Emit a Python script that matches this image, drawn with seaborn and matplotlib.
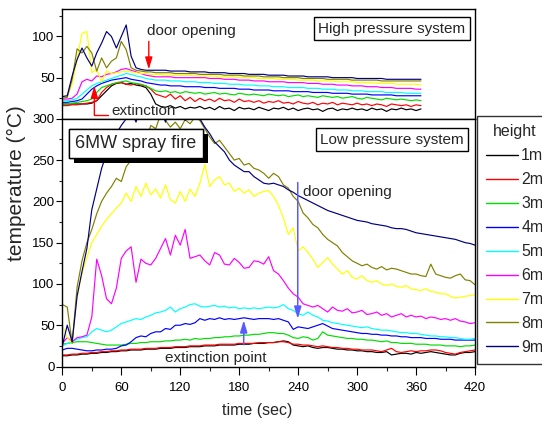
import numpy as np
import pandas as pd
import matplotlib
matplotlib.use("Agg")
import matplotlib.pyplot as plt
import matplotlib.patheffects as pe
from matplotlib.ticker import MultipleLocator, FixedLocator
import seaborn as sns

sns.set_style("ticks")
REGULAR = ["Liberation Sans", "DejaVu Sans"]
plt.rcParams["font.family"] = REGULAR

# ---------------- data ----------------
heights = ["1m", "2m", "3m", "4m", "5m", "6m", "7m", "8m", "9m"]
colors = ["#000000", "#ff0000", "#00dd00", "#0000ff", "#00ffff",
          "#ff00ff", "#ffff00", "#808000", "#000080"]

# High pressure system (upper panel), time 0..365 s every 5 s
t_high = np.arange(0, 366, 5)
high_1m = [18, 18, 18, 18, 18, 18, 19, 22, 28, 34,
           40, 43, 44, 42, 43, 41, 40, 38, 30, 18,
           15, 14, 16, 13, 15, 12, 14, 13, 15, 12,
           14, 11, 15, 12, 13, 10, 14, 12, 13, 11,
           14, 12, 10, 13, 12, 14, 11, 13, 10, 12,
           13, 11, 12, 9, 12, 13, 10, 12, 11, 13,
           11, 12, 10, 13, 11, 12, 9, 12, 11, 13,
           11, 12, 10, 12]
high_2m = [16, 16, 17, 17, 18, 19, 20, 22, 32, 38,
           42, 43, 44, 42, 41, 43, 41, 40, 36, 30,
           28, 26, 30, 24, 28, 22, 26, 21, 25, 22,
           24, 21, 25, 22, 23, 20, 24, 21, 22, 20,
           22, 19, 21, 20, 22, 19, 20, 18, 21, 19,
           18, 20, 17, 19, 18, 20, 17, 19, 18, 17,
           19, 17, 18, 16, 18, 17, 15, 18, 17, 16,
           17, 15, 17, 16]
high_3m = [18, 18, 19, 20, 21, 22, 24, 32, 38, 40,
           42, 44, 45, 46, 44, 43, 42, 40, 37, 34,
           33, 34, 32, 33, 31, 33, 32, 31, 32, 30,
           31, 32, 30, 31, 30, 29, 31, 30, 29, 30,
           29, 28, 30, 29, 28, 29, 27, 28, 29, 27,
           28, 27, 26, 28, 27, 26, 27, 25, 26, 27,
           25, 24, 26, 25, 24, 23, 25, 24, 23, 24,
           23, 22, 23, 22]
high_4m = [20, 20, 21, 22, 24, 30, 36, 40, 43, 45,
           47, 48, 49, 50, 48, 47, 46, 44, 43, 42,
           41, 41, 40, 40, 40, 39, 39, 39, 39, 38,
           38, 38, 37, 37, 37, 37, 36, 36, 36, 35,
           35, 35, 35, 34, 34, 34, 34, 33, 33, 33,
           33, 32, 32, 32, 32, 31, 31, 31, 31, 30,
           30, 30, 30, 29, 29, 29, 29, 29, 28, 28,
           28, 28, 28, 28]
high_5m = [22, 22, 23, 25, 30, 35, 40, 43, 45, 47,
           49, 51, 53, 55, 54, 52, 51, 49, 48, 47,
           47, 47, 46, 46, 46, 45, 45, 45, 44, 44,
           44, 43, 43, 43, 42, 42, 42, 41, 41, 41,
           40, 40, 40, 39, 39, 39, 38, 38, 38, 38,
           37, 37, 37, 36, 36, 36, 35, 35, 35, 34,
           34, 34, 33, 33, 33, 33, 32, 32, 32, 32,
           31, 31, 31, 31]
high_6m = [24, 24, 25, 30, 45, 48, 46, 52, 51, 54,
           55, 57, 60, 61, 59, 57, 55, 53, 52, 51,
           51, 51, 51, 50, 50, 50, 50, 50, 50, 50,
           49, 49, 49, 48, 48, 48, 47, 47, 47, 46,
           46, 46, 45, 45, 45, 45, 44, 44, 44, 44,
           43, 43, 43, 42, 42, 42, 41, 41, 41, 40,
           40, 40, 39, 39, 39, 38, 38, 38, 37, 37,
           37, 37, 36, 36]
high_7m = [27, 28, 42, 72, 104, 106, 56, 60, 45, 58,
           55, 56, 57, 58, 57, 56, 55, 55, 54, 54,
           54, 53, 53, 53, 53, 53, 53, 52, 52, 52,
           52, 52, 51, 51, 51, 51, 50, 50, 50, 50,
           49, 49, 49, 49, 48, 48, 48, 48, 47, 47,
           47, 47, 46, 46, 46, 46, 45, 45, 45, 45,
           44, 44, 44, 44, 43, 43, 43, 43, 42, 42,
           42, 42, 42, 41]
high_8m = [25, 26, 48, 85, 80, 88, 80, 58, 74, 62,
           70, 74, 94, 84, 62, 59, 58, 57, 57, 56,
           56, 56, 56, 55, 55, 55, 55, 55, 54, 54,
           54, 54, 54, 53, 53, 53, 53, 52, 52, 52,
           52, 51, 51, 51, 51, 50, 50, 50, 50, 49,
           49, 49, 49, 49, 48, 48, 48, 48, 48, 47,
           47, 47, 47, 47, 47, 46, 46, 46, 46, 46,
           46, 46, 46, 46]
high_9m = [27, 28, 52, 72, 86, 74, 64, 80, 92, 106,
           100, 86, 100, 114, 76, 62, 60, 59, 59, 59,
           59, 59, 58, 58, 58, 58, 57, 57, 57, 57,
           56, 56, 56, 56, 55, 55, 55, 55, 54, 54,
           54, 54, 53, 53, 53, 53, 52, 52, 52, 52,
           51, 51, 51, 51, 51, 50, 50, 50, 50, 50,
           49, 49, 49, 49, 49, 49, 48, 48, 48, 48,
           48, 48, 48, 48]

# Low pressure system (lower panel), time 0..420 s every 5 s
t_low = np.arange(0, 421, 5)
low_1m = [13, 13, 14, 14, 15, 15, 16, 16, 17, 17,
          18, 18, 19, 19, 20, 20, 20, 21, 21, 21,
          22, 22, 22, 23, 23, 23, 24, 24, 24, 25,
          25, 25, 26, 26, 26, 26, 27, 27, 27, 28,
          28, 28, 29, 29, 30, 31, 30, 26, 25, 24,
          25, 23, 22, 23, 23, 22, 21, 21, 20, 20,
          19, 19, 18, 18, 17, 17, 18, 14, 15, 16,
          16, 15, 17, 16, 17, 18, 17, 16, 15, 14,
          14, 16, 17, 17, 18]
low_2m = [14, 14, 15, 15, 16, 16, 17, 17, 18, 18,
          19, 19, 20, 20, 21, 21, 21, 22, 22, 22,
          23, 23, 23, 24, 24, 24, 25, 25, 25, 26,
          26, 26, 27, 27, 27, 27, 28, 28, 28, 28,
          29, 29, 29, 29, 30, 30, 29, 27, 27, 26,
          26, 25, 24, 25, 24, 23, 23, 22, 22, 21,
          21, 20, 20, 20, 19, 18, 20, 22, 18, 17,
          18, 19, 18, 19, 19, 20, 20, 19, 17, 16,
          15, 17, 18, 19, 20]
low_3m = [27, 28, 29, 30, 30, 30, 29, 28, 27, 26,
          26, 26, 26, 27, 28, 28, 29, 29, 30, 30,
          30, 31, 31, 32, 32, 33, 32, 34, 33, 34,
          34, 35, 35, 36, 36, 37, 37, 38, 38, 39,
          39, 40, 41, 41, 40, 40, 38, 35, 34, 36,
          35, 32, 34, 42, 38, 37, 36, 35, 34, 34,
          33, 33, 32, 32, 31, 30, 31, 29, 29, 28,
          28, 28, 27, 27, 27, 26, 26, 26, 25, 25,
          25, 24, 25, 25, 26]
low_4m = [20, 22, 22, 21, 20, 19, 19, 20, 20, 21,
          21, 22, 25, 26, 30, 35, 37, 36, 40, 42,
          42, 46, 45, 50, 50, 52, 51, 53, 58, 56,
          58, 57, 59, 57, 58, 57, 58, 59, 58, 57,
          58, 58, 58, 57, 58, 56, 54, 45, 48, 47,
          46, 48, 50, 52, 49, 46, 45, 44, 43, 42,
          41, 40, 40, 39, 39, 38, 38, 37, 37, 36,
          36, 35, 35, 35, 34, 34, 34, 33, 33, 33,
          32, 32, 32, 32, 32]
low_5m = [25, 28, 30, 33, 35, 36, 42, 46, 44, 42,
          44, 48, 52, 54, 56, 58, 57, 60, 62, 65,
          66, 68, 72, 66, 70, 72, 75, 76, 73, 72,
          73, 74, 72, 73, 71, 72, 70, 71, 70, 71,
          70, 71, 72, 71, 72, 75, 70, 68, 64, 62,
          66, 62, 60, 56, 55, 53, 52, 51, 50, 49,
          48, 47, 48, 46, 45, 44, 44, 43, 42, 41,
          41, 40, 40, 39, 38, 37, 37, 36, 36, 35,
          35, 34, 33, 33, 34]
low_6m = [28, 35, 30, 35, 36, 38, 60, 130, 110, 82,
          76, 95, 131, 140, 145, 102, 130, 125, 123, 131,
          143, 155, 135, 159, 147, 166, 131, 133, 135, 128,
          123, 138, 135, 124, 123, 131, 126, 119, 120, 128,
          127, 124, 133, 116, 112, 104, 95, 88, 84, 76,
          74, 72, 74, 70, 66, 72, 68, 67, 70, 65,
          66, 68, 63, 64, 66, 62, 64, 60, 62, 64,
          60, 62, 60, 61, 58, 60, 59, 57, 58, 56,
          58, 55, 54, 52, 53]
low_7m = [50, 35, 28, 85, 112, 132, 150, 160, 170, 178,
          185, 192, 198, 210, 200, 218, 206, 222, 208, 215,
          204, 220, 202, 198, 212, 200, 215, 206, 222, 245,
          218, 226, 230, 220, 222, 212, 216, 210, 214, 206,
          210, 212, 213, 206, 195, 180, 160, 168, 140, 145,
          138, 130, 120, 126, 132, 124, 118, 112, 116, 108,
          106, 110, 104, 102, 104, 100, 98, 100, 97, 96,
          98, 94, 93, 92, 94, 91, 90, 88, 88, 85,
          83, 84, 85, 86, 87]
low_8m = [75, 72, 28, 96, 128, 150, 166, 185, 200, 210,
          218, 228, 224, 242, 250, 266, 278, 272, 292, 288,
          305, 298, 290, 296, 288, 299, 294, 302, 298, 288,
          278, 270, 274, 266, 258, 250, 252, 244, 246, 240,
          238, 234, 228, 234, 230, 220, 216, 206, 200, 186,
          180, 172, 168, 160, 154, 150, 146, 138, 133, 128,
          125, 122, 124, 120, 118, 121, 117, 119, 118, 116,
          114, 112, 112, 110, 109, 124, 112, 110, 108, 107,
          110, 112, 105, 104, 99]
low_9m = [25, 50, 30, 85, 115, 143, 190, 215, 240, 258,
          268, 282, 292, 300, 310, 296, 315, 304, 318, 300,
          312, 296, 318, 302, 315, 298, 320, 308, 300, 290,
          282, 272, 266, 260, 250, 244, 240, 236, 236, 230,
          226, 222, 221, 222, 220, 218, 214, 211, 207, 204,
          201, 198, 195, 192, 189, 187, 185, 183, 181, 179,
          177, 176, 175, 173, 172, 171, 170, 168, 167, 167,
          166, 164, 162, 161, 160, 159, 158, 157, 156, 155,
          154, 152, 150, 149, 147]

high_series = [high_1m, high_2m, high_3m, high_4m, high_5m,
               high_6m, high_7m, high_8m, high_9m]
low_series = [low_1m, low_2m, low_3m, low_4m, low_5m,
              low_6m, low_7m, low_8m, low_9m]


def long_frame(t, series):
    frames = []
    for h, vals in zip(heights, series):
        frames.append(pd.DataFrame({"time": t, "temp": vals, "height": h}))
    return pd.concat(frames, ignore_index=True)


df_high = long_frame(t_high, high_series)
df_low = long_frame(t_low, low_series)
palette = dict(zip(heights, colors))

# ---------------- figure ----------------
fig = plt.figure(figsize=(5.42, 4.24), dpi=100)
ax_hi = fig.add_axes([0.115, 0.7198, 0.7614, 0.2582])
ax_lo = fig.add_axes([0.115, 0.1356, 0.7614, 0.5842])

sns.lineplot(data=df_high, x="time", y="temp", hue="height", hue_order=heights,
             palette=palette, estimator=None, lw=0.85, ax=ax_hi, legend=False)
sns.lineplot(data=df_low, x="time", y="temp", hue="height", hue_order=heights,
             palette=palette, estimator=None, lw=0.85, ax=ax_lo, legend=True)

handles, labels = ax_lo.get_legend_handles_labels()
ax_lo.get_legend().remove()

for ax in (ax_hi, ax_lo):
    ax.set_xlim(0, 420)
    ax.set_xlabel("")
    ax.set_ylabel("")
    for s in ax.spines.values():
        s.set_visible(True)
        s.set_color("black")
        s.set_linewidth(1.0)
    ax.tick_params(which="major", direction="out", length=4, width=0.8,
                   labelsize=9.5, pad=1.5, colors="black")
    ax.tick_params(which="minor", direction="out", length=2.5, width=0.8)

ax_hi.set_ylim(0, 133)
ax_hi.yaxis.set_major_locator(FixedLocator([50, 100]))
ax_hi.yaxis.set_minor_locator(FixedLocator([25, 75, 125]))
ax_hi.tick_params(axis="x", which="both", bottom=False, labelbottom=False)

ax_lo.set_ylim(0, 300)
ax_lo.yaxis.set_major_locator(MultipleLocator(50))
ax_lo.yaxis.set_minor_locator(MultipleLocator(25))
ax_lo.xaxis.set_major_locator(MultipleLocator(60))
ax_lo.xaxis.set_minor_locator(MultipleLocator(30))
ax_lo.tick_params(axis="x", which="major", length=5.5, pad=6)
ax_lo.tick_params(axis="x", which="minor", length=3)

fig.text(257 / 542, 1 - 410 / 424, "time (sec)", ha="center", va="center",
         fontsize=11.5)
fig.text(16 / 542, 1 - 183 / 424, "temperature (°C)", rotation=90,
         ha="center", va="center", fontsize=15)

leg = fig.legend(handles, labels, title="height", loc="upper left",
                 bbox_to_anchor=(477.3 / 542, 1 - 115.7 / 424),
                 frameon=True, fancybox=False, edgecolor="black",
                 fontsize=11.5, title_fontsize=11.5, handlelength=2.0,
                 handletextpad=0.2, labelspacing=0.56, borderpad=0.55,
                 borderaxespad=0)
leg.get_frame().set_linewidth(1.0)
for line in leg.get_lines():
    line.set_linewidth(1.0)

# ---------------- annotations: upper panel ----------------
ax_hi.text(335.5, 109.4, "High pressure system", ha="center", va="center",
           fontsize=11, zorder=6,
           bbox=dict(boxstyle="square,pad=0.3", fc="white", ec="black", lw=1))
ax_hi.text(86, 107, "door opening", ha="left", va="center", fontsize=11)
ax_hi.annotate("", xy=(88, 60), xytext=(88, 94),
               arrowprops=dict(arrowstyle="-|>,head_length=0.4,head_width=0.12",
                               color="red", lw=1, mutation_scale=18,
                               shrinkA=0, shrinkB=0))
ax_hi.annotate("", xy=(32.6, 40), xytext=(32.6, 4.5),
               arrowprops=dict(arrowstyle="-|>,head_length=0.4,head_width=0.12",
                               color="red", lw=1, mutation_scale=18,
                               shrinkA=0, shrinkB=0), annotation_clip=False)
ax_hi.plot([32.6, 46.8], [4.5, 4.5], color="red", lw=1)
ax_hi.text(50.3, 9.5, "extinction", ha="left", va="center", fontsize=11,
           clip_on=False, zorder=7)

# ---------------- annotations: lower panel ----------------
ax_lo.text(335.5, 274.5, "Low pressure system", ha="center", va="center",
           fontsize=11, zorder=6,
           bbox=dict(boxstyle="square,pad=0.3", fc="white", ec="black", lw=1))
fire = ax_lo.text(74.6, 270.3, "6MW spray fire", ha="center", va="center",
                  fontsize=13, zorder=7,
                  bbox=dict(boxstyle="square,pad=0.35", fc="white",
                            ec="black", lw=1))
fire.get_bbox_patch().set_path_effects(
    [pe.withSimplePatchShadow(offset=(3.6, -3.6), shadow_rgbFace="black",
                              alpha=1.0), pe.Normal()])

arrow_blue = "#5a5aff"
ax_lo.text(244.7, 211.9, "door opening", ha="left", va="center", fontsize=11)
ax_lo.annotate("", xy=(239.6, 57.8), xytext=(239.6, 222.8),
               arrowprops=dict(arrowstyle="-|>,head_length=0.4,head_width=0.12",
                               color=arrow_blue, lw=1.1, mutation_scale=18,
                               shrinkA=0, shrinkB=0))
ax_lo.annotate("", xy=(184.6, 56), xytext=(184.6, 26.4),
               arrowprops=dict(arrowstyle="-|>,head_length=0.4,head_width=0.12",
                               color=arrow_blue, lw=1.1, mutation_scale=18,
                               shrinkA=0, shrinkB=0))
ax_lo.text(156, 10.9, "extinction point", ha="center", va="center",
           fontsize=11)

fig.savefig("out.png", dpi=100)
